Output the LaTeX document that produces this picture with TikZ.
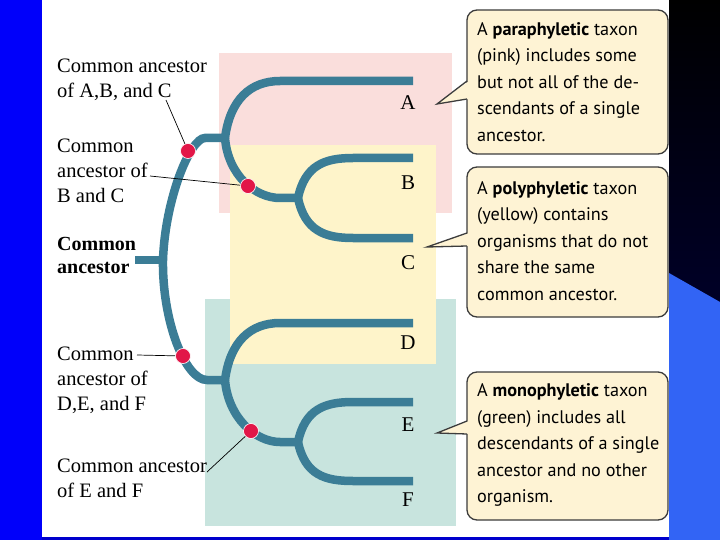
\documentclass[tikz,border=0pt]{standalone}
\usepackage{fontspec}
\setmainfont{Liberation Serif}
\newfontfamily\boxfont{PT Sans}
\definecolor{treeblue}{RGB}{59,125,150}
\definecolor{dotred}{RGB}{226,22,72}
\definecolor{pinkbg}{RGB}{250,222,220}
\definecolor{yellowbg}{RGB}{254,244,202}
\definecolor{greenbg}{RGB}{200,228,222}
\definecolor{boxfill}{RGB}{254,243,212}
\definecolor{boxedge}{RGB}{60,60,60}
\definecolor{sideblue}{RGB}{0,0,250}
\definecolor{cornerblue}{RGB}{50,100,245}
\definecolor{navy}{RGB}{0,0,70}
\tikzset{
  tree/.style={draw=treeblue, line width=8.5pt},
  dotnode/.style={circle, fill=dotred, draw=white, line width=0.6pt, minimum size=15pt, inner sep=0pt},
  leader/.style={draw=black, line width=0.7pt},
  lbl/.style={font=\fontsize{20.5}{25}\selectfont, align=left, inner sep=0pt, anchor=west},
  leaf/.style={font=\fontsize{21}{21}\selectfont, inner sep=0pt},
  callout/.style={draw=boxedge, fill=boxfill, line width=1.3pt, rounded corners=10pt},
  pointeredge/.style={draw=boxedge, line width=1.3pt},
  ctext/.style={font=\boxfont\fontsize{18.2}{26.5}\selectfont, align=left, inner sep=0pt, anchor=west}
}
\begin{document}
\begin{tikzpicture}[x=1pt,y=-1pt]
\useasboundingbox (0,0) rectangle (720,540);
% frame
\fill[white] (0,0) rectangle (720,540);
\fill[sideblue] (0,0) rectangle (42,540);
\fill[blue!80!black] (42,537) rectangle (669,540);
\shade[top color=black, bottom color=navy] (669,0) rectangle (720,540);
\fill[cornerblue] (669,273) -- (720,302) -- (720,540) -- (669,540) -- cycle;
% taxon backgrounds
\fill[pinkbg] (219,53) rectangle (452,213);
\fill[greenbg] (205,299) rectangle (456,526);
\fill[yellowbg] (230,145) rectangle (436,364);
% tree
\draw[tree] (135,260) -- (163,260);
\draw[tree] (225,138) -- (205,138) .. controls (190,138) and (165,200) .. (163,260)
  .. controls (162,320) and (185,380) .. (207,380) -- (225,380);
\draw[tree] (225,138) .. controls (230,100) and (250,81) .. (280,81) -- (413,81);
\draw[tree] (225,138) .. controls (228,175) and (255,198) .. (280,198) -- (298,198);
\draw[tree] (298,198) .. controls (305,165) and (325,158) .. (353,158) -- (413,158);
\draw[tree] (298,198) .. controls (305,231) and (325,238) .. (353,238) -- (413,238);
\draw[tree] (225,380) .. controls (230,342) and (250,323) .. (280,323) -- (413,323);
\draw[tree] (225,380) .. controls (228,417) and (255,442) .. (280,442) -- (298,442);
\draw[tree] (298,442) .. controls (305,409) and (325,402) .. (353,402) -- (413,402);
\draw[tree] (298,442) .. controls (305,475) and (325,481) .. (353,481) -- (413,481);
% dots
\node[dotnode] (d1) at (188,151) {};
\node[dotnode] (d2) at (248,186) {};
\node[dotnode] (d3) at (183,356) {};
\node[dotnode] (d4) at (251,431) {};
% leaf letters
\node[leaf] (A) at (408,103) {A};
\node[leaf] (B) at (408,183) {B};
\node[leaf] (C) at (408,263) {C};
\node[leaf] (D) at (408,343) {D};
\node[leaf] (E) at (408,425) {E};
\node[leaf] (F) at (408,500) {F};
% left labels
\node[lbl] (t1) at (57,80) {Common ancestor\\of A,B, and C};
\node[lbl] (t2) at (57,171) {Common\\ancestor of\\B and C};
\node[lbl, font=\bfseries\fontsize{20}{23}\selectfont] (t3) at (57,255) {Common\\ancestor};
\node[lbl] (t4) at (57,380) {Common\\ancestor of\\D,E, and F};
\node[lbl] (t5) at (57,478) {Common ancestor\\of E and F};
% leaders
\coordinate (l1) at (166,100);
\coordinate (l2) at (150,176);
\coordinate (l4) at (137,355);
\coordinate (l5) at (207,472);
\draw[leader] (l1) -- (d1);
\draw[leader] (l2) -- (d2);
\draw[leader] (l4) -- (d3);
\draw[leader] (l5) -- (d4);
% callout boxes
\draw[callout] (467,10) rectangle (668,154);
\draw[callout] (467,167) rectangle (668,317);
\draw[callout] (467,372) rectangle (668,520);
\coordinate (p1) at (437,104);
\coordinate (p2) at (427,247);
\coordinate (p3) at (437,433);
\fill[boxfill] (p1) -- (469,81) -- (469,99) -- cycle;
\draw[pointeredge] (467,81) -- (p1) -- (467,99);
\fill[boxfill] (p2) -- (469,233) -- (469,246) -- cycle;
\draw[pointeredge] (467,233) -- (p2) -- (467,246);
\fill[boxfill] (p3) -- (469,421) -- (469,434) -- cycle;
\draw[pointeredge] (467,421) -- (p3) -- (467,434);
\node[ctext] (c1) at (477,82) {A \textbf{paraphyletic} taxon\\(pink) includes some\\but not all of the de-\\scendants of a single\\ancestor.};
\node[ctext] (c2) at (477,241) {A \textbf{polyphyletic} taxon\\(yellow) contains\\organisms that do not\\share the same\\common ancestor.};
\node[ctext] (c3) at (477,445) {A \textbf{monophyletic} taxon\\(green) includes all\\descendants of a single\\ancestor and no other\\organism.};
\end{tikzpicture}
\end{document}
